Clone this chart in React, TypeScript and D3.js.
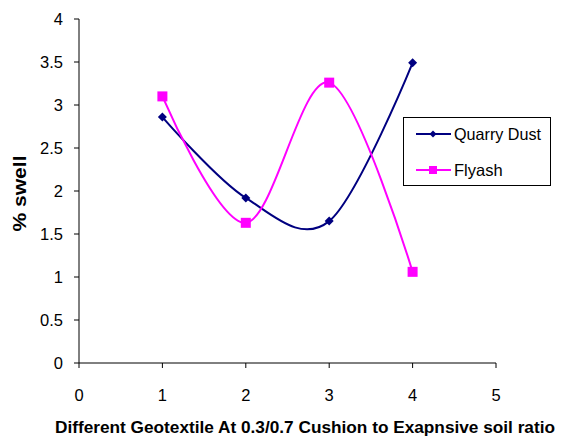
import React from "react";
import * as d3 from "d3";

const xCategories = [1, 2, 3, 4];
const quarryDust = [2.86, 1.92, 1.65, 3.49];
const flyash = [3.1, 1.63, 3.26, 1.06];
const xTicks = [0, 1, 2, 3, 4, 5];
const yTicks = [0, 0.5, 1, 1.5, 2, 2.5, 3, 3.5, 4];
const seriesNames = ["Quarry Dust", "Flyash"];

const W = 561;
const H = 441;
const FONT = "'Liberation Sans', Arial, sans-serif";

export default function App() {
  const x = d3.scaleLinear().domain([0, 5]).range([79, 496]);
  const y = d3.scaleLinear().domain([0, 4]).range([363, 19]);
  const line = d3
    .line<number>()
    .x((_, i) => x(xCategories[i]))
    .y((d) => y(d))
    .curve(d3.curveCardinal.tension(0));

  const navy = "#000080";
  const mag = "#FF00FF";

  const diamond = (cx: number, cy: number, r: number, key: any) => (
    <path
      key={key}
      d={`M${cx},${cy - r}L${cx + r},${cy}L${cx},${cy + r}L${cx - r},${cy}Z`}
      fill={navy}
    />
  );
  const square = (cx: number, cy: number, s: number, key: any) => (
    <rect key={key} x={cx - s / 2} y={cy - s / 2} width={s} height={s} fill={mag} />
  );

  return (
    <svg
      width={W}
      height={H}
      style={{ position: "absolute", left: 0, top: 0, background: "#fff" }}
      fontFamily={FONT}
    >
      <rect x={0} y={0} width={W} height={H} fill="#fff" />
      {/* axes */}
      <line x1={x(0)} x2={x(0)} y1={y(4)} y2={y(0)} stroke="#000" strokeWidth={1} />
      <line x1={x(0)} x2={x(5)} y1={y(0)} y2={y(0)} stroke="#000" strokeWidth={1} />
      {yTicks.map((t) => (
        <g key={"y" + t}>
          <line x1={x(0) - 5} x2={x(0)} y1={y(t)} y2={y(t)} stroke="#000" />
          <text x={63} y={y(t) + 6} textAnchor="end" fontSize={16.5} fill="#000">
            {t}
          </text>
        </g>
      ))}
      {xTicks.map((t) => (
        <g key={"x" + t}>
          <line x1={x(t)} x2={x(t)} y1={y(0)} y2={y(0) + 5} stroke="#000" />
          <text x={x(t)} y={401} textAnchor="middle" fontSize={16.5} fill="#000">
            {t}
          </text>
        </g>
      ))}
      {/* series */}
      <path d={line(quarryDust) || ""} fill="none" stroke={navy} strokeWidth={2} />
      <path d={line(flyash) || ""} fill="none" stroke={mag} strokeWidth={2} />
      {quarryDust.map((v, i) => diamond(x(xCategories[i]), y(v), 4.5, "q" + i))}
      {flyash.map((v, i) => square(x(xCategories[i]), y(v), 10, "f" + i))}
      {/* legend */}
      <rect x={403.5} y={117.5} width={147} height={68} fill="#fff" stroke="#000" strokeWidth={1} />
      <line x1={416} x2={451} y1={134} y2={134} stroke={navy} strokeWidth={2} />
      {diamond(433, 134, 3.5, "lq")}
      <text x={454} y={140} fontSize={16.5} fill="#000" textLength={87} lengthAdjust="spacingAndGlyphs">
        {seriesNames[0]}
      </text>
      <line x1={416} x2={451} y1={170} y2={170} stroke={mag} strokeWidth={2} />
      {square(433, 170, 8, "lf")}
      <text x={454} y={176} fontSize={16.5} fill="#000">
        {seriesNames[1]}
      </text>
      {/* titles */}
      <text
        x={55}
        y={432.5}
        fontSize={17}
        fontWeight="bold"
        fill="#000"
        textLength={500}
        lengthAdjust="spacingAndGlyphs"
      >
        Different Geotextile At 0.3/0.7 Cushion to Exapnsive  soil ratio
      </text>
      <text
        transform="translate(26,193.5) rotate(-90)"
        textAnchor="middle"
        fontSize={18}
        fontWeight="bold"
        fill="#000"
        textLength={76}
        lengthAdjust="spacingAndGlyphs"
      >
        % swell
      </text>
    </svg>
  );
}
